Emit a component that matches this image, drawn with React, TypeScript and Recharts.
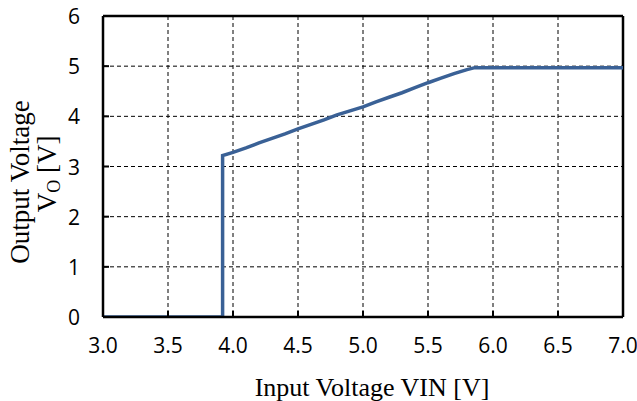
import React from "react";
import {
  LineChart,
  Line,
  XAxis,
  YAxis,
  CartesianGrid,
  ReferenceLine,
  Label,
} from "recharts";

const vin = [3.0, 3.5, 3.92, 3.92, 4.0, 4.1, 4.2, 4.3, 4.4, 4.5, 4.6, 4.7, 4.8, 4.9, 5.0, 5.1, 5.2, 5.3, 5.4, 5.5, 5.6, 5.7, 5.8, 5.86, 6.0, 6.5, 7.0];
const vout = [0, 0, 0, 3.22, 3.28, 3.37, 3.47, 3.56, 3.65, 3.75, 3.84, 3.93, 4.03, 4.11, 4.19, 4.29, 4.38, 4.47, 4.57, 4.67, 4.76, 4.85, 4.93, 4.97, 4.97, 4.97, 4.97];
const xTicks = [3.0, 3.5, 4.0, 4.5, 5.0, 5.5, 6.0, 6.5, 7.0];
const yTicks = [0, 1, 2, 3, 4, 5, 6];

const data = vin.map((v, i) => ({ vin: v, vout: vout[i] }));

const tickFont = "'Open Sans', sans-serif";
const labelFont = "'Liberation Serif', 'Times New Roman', serif";

const XTick = (props: any) => {
  const { x, y, payload } = props;
  const v = payload.value;
  return (
    <g>
      {v > 3 && v < 7 ? <line x1={x} x2={x} y1={y} y2={y - 6} stroke="#000" strokeWidth={2} /> : null}
      <text x={x} y={y + 36} textAnchor="middle" fontFamily={tickFont} fontSize={21} fill="#000">
        {Number(v).toFixed(1)}
      </text>
    </g>
  );
};

const YTick = (props: any) => {
  const { x, y, payload } = props;
  const v = payload.value;
  return (
    <g>
      {v > 0 && v < 6 ? <line x1={x} x2={x + 6} y1={y} y2={y} stroke="#000" strokeWidth={2} /> : null}
      <text x={x - 23} y={y} textAnchor="end" dominantBaseline="central" fontFamily={tickFont} fontSize={21} fill="#000">
        {v}
      </text>
    </g>
  );
};

const YLabel = () => (
  <g>
    <text
      transform="translate(29,182) rotate(-90)"
      textAnchor="middle"
      fontFamily={labelFont}
      fontSize={27}
      fill="#000"
    >
      Output Voltage
    </text>
    <text
      transform="translate(56,174) rotate(-90)"
      textAnchor="middle"
      fontFamily={labelFont}
      fontSize={27}
      fill="#000"
    >
      V<tspan fontSize={18} dy={4}>O</tspan>
      <tspan dy={-4}> [V]</tspan>
    </text>
  </g>
);

const XLabel = () => (
  <text x={372} y={396} textAnchor="middle" fontFamily={labelFont} fontSize={26} fill="#000">
    Input Voltage VIN [V]
  </text>
);

export default function App() {
  return (
    <div style={{ position: "absolute", left: 0, top: 0, width: 637, height: 401, background: "#fff" }}>
      <LineChart width={637} height={401} data={data} margin={{ top: 16, right: 14, bottom: 54, left: 0 }}>
        <CartesianGrid stroke="#000" strokeDasharray="4 3" strokeWidth={1} />
        <XAxis
          dataKey="vin"
          type="number"
          domain={[3, 7]}
          ticks={xTicks}
          height={30}
          tickSize={0}
          tickMargin={0}
          tickLine={false}
          axisLine={{ stroke: "#000", strokeWidth: 2.5 }}
          tick={<XTick />}
          interval={0}
          allowDataOverflow
        >
          <Label content={<XLabel />} />
        </XAxis>
        <YAxis
          type="number"
          domain={[0, 6]}
          ticks={yTicks}
          width={103}
          tickSize={0}
          tickMargin={0}
          tickLine={false}
          axisLine={{ stroke: "#000", strokeWidth: 2.5 }}
          tick={<YTick />}
          interval={0}
          allowDataOverflow
        >
          <Label content={<YLabel />} />
        </YAxis>
        <ReferenceLine y={6} stroke="#000" strokeWidth={2.5} />
        <ReferenceLine x={7} stroke="#000" strokeWidth={2.5} />
        <Line
          type="linear"
          dataKey="vout"
          stroke="#3A6196"
          strokeWidth={3.5}
          dot={false}
          isAnimationActive={false}
        />
      </LineChart>
    </div>
  );
}
